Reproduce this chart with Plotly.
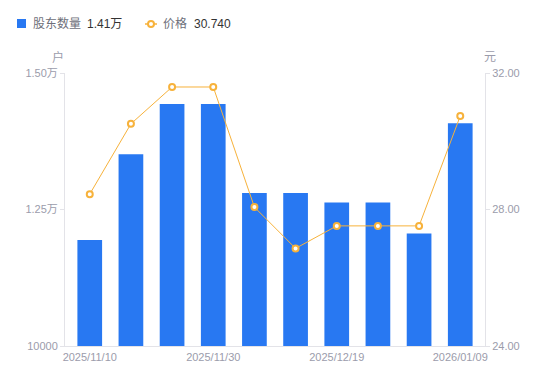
import plotly.graph_objects as go

dates = ["2025/11/10", "2025/11/14", "2025/11/20", "2025/11/30", "2025/12/05",
         "2025/12/10", "2025/12/19", "2025/12/25", "2025/12/31", "2026/01/09"]
holders = [11940, 13510, 14430, 14430, 12800, 12800, 12630, 12630, 12060, 14080]
prices = [28.45, 30.51, 31.59, 31.59, 28.07, 26.86, 27.52, 27.52, 27.52, 30.74]

x_tickvals = ["2025/11/10", "2025/11/30", "2025/12/19", "2026/01/09"]
y1_tickvals = [10000, 12500, 15000]
y1_ticktext = ["10000", "1.25万", "1.50万"]
y2_tickvals = [24, 28, 32]
y2_ticktext = ["24.00", "28.00", "32.00"]

# page body has an 8px margin; work in screen pixels and subtract it
OFF = 8
W, H = 550 - OFF, 381 - OFF
PL, PR, PT, PB = 65, 485, 73, 346  # plot area in screen pixels
L, T = PL - OFF, PT - OFF
R = W - (PR - OFF)
B = H - (PB - OFF)
PW, PH = PR - PL, PB - PT

def px(x):
    return (x - PL) / PW

def py(y):
    return (PB - y) / PH

BLUE = "#2878F2"
ORANGE = "#F7B23B"
GRAY = "#9b9cab"
AX = "#e3e3e8"
FONT = "Liberation Sans, Noto Sans CJK SC, sans-serif"

fig = go.Figure()
fig.add_trace(go.Bar(x=dates, y=holders, name="股东数量", marker=dict(color=BLUE, line=dict(width=0)),
                     yaxis="y"))
fig.add_trace(go.Scatter(x=dates, y=prices, name="价格", mode="lines+markers", yaxis="y2",
                         line=dict(color=ORANGE, width=1),
                         marker=dict(symbol="circle", size=6, color="white",
                                     line=dict(color=ORANGE, width=2))))

fig.update_layout(
    width=W, height=H,
    margin=dict(l=L, r=R, t=T, b=B, autoexpand=False),
    plot_bgcolor="white", paper_bgcolor="white",
    showlegend=False,
    bargap=0.4,
    font=dict(family=FONT, size=11, color=GRAY),
    xaxis=dict(type="category", tickvals=x_tickvals, ticktext=x_tickvals,
               showline=True, linecolor=AX, linewidth=1, showgrid=False, ticks="",
               tickfont=dict(size=11, color=GRAY), ticklabelstandoff=1, automargin=False),
    yaxis=dict(range=[10000, 15000], tickvals=y1_tickvals, ticktext=y1_ticktext,
               showline=True, linecolor=AX, linewidth=1, showgrid=False, zeroline=False,
               ticks="outside", ticklen=4, tickcolor=AX, tickfont=dict(size=11, color=GRAY),
               automargin=False),
    yaxis2=dict(range=[24, 32], tickvals=y2_tickvals, ticktext=y2_ticktext, overlaying="y",
                side="right", showline=True, linecolor=AX, linewidth=1, showgrid=False,
                zeroline=False, ticks="outside", ticklen=4, tickcolor=AX,
                tickfont=dict(size=11, color=GRAY), automargin=False),
)

shapes = [
    dict(type="rect", xref="paper", yref="paper", x0=px(17), x1=px(26), y0=py(28), y1=py(19),
         fillcolor=BLUE, line=dict(width=0)),
    dict(type="line", xref="paper", yref="paper", x0=px(145), x1=px(157), y0=py(24), y1=py(24),
         line=dict(color=ORANGE, width=1.5)),
    dict(type="circle", xref="paper", yref="paper", x0=px(148), x1=px(154), y0=py(27), y1=py(21),
         fillcolor="white", line=dict(color=ORANGE, width=2)),
]
fig.update_layout(shapes=shapes)

ann = [
    dict(text="股东数量", x=px(31), y=py(24), xanchor="left", yanchor="middle",
         font=dict(size=12, color="#6e6f7a")),
    dict(text="1.41万", x=px(85), y=py(24), xanchor="left", yanchor="middle",
         font=dict(size=12, color="#333333")),
    dict(text="价格", x=px(161), y=py(24), xanchor="left", yanchor="middle",
         font=dict(size=12, color="#6e6f7a")),
    dict(text="30.740", x=px(192), y=py(24), xanchor="left", yanchor="middle",
         font=dict(size=12, color="#333333")),
    dict(text="户", x=px(58), y=py(57), xanchor="center", yanchor="middle",
         font=dict(size=12, color=GRAY)),
    dict(text="元", x=px(490), y=py(57), xanchor="center", yanchor="middle",
         font=dict(size=12, color=GRAY)),
]
for a in ann:
    a.update(xref="paper", yref="paper", showarrow=False)
fig.update_layout(annotations=ann)

fig.write_html("out.html")
